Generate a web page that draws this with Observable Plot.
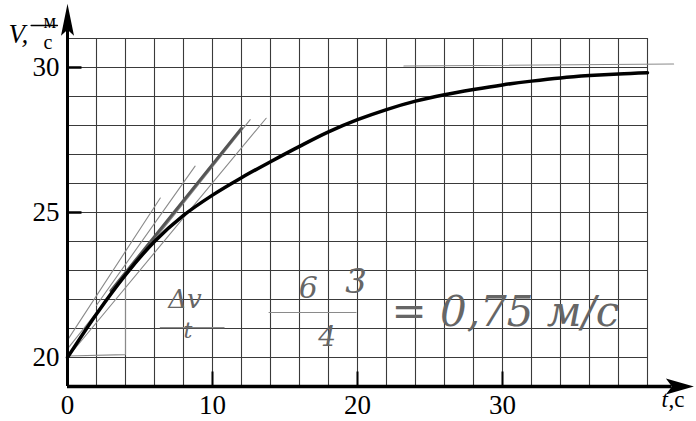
<!DOCTYPE html>
<html>
<head>
<meta charset="utf-8">
<script src="https://cdn.jsdelivr.net/npm/d3@7"></script>
<script src="https://cdn.jsdelivr.net/npm/@observablehq/plot@0.6"></script>
<style>
  html, body { margin: 0; padding: 0; background: #fff; }
  #chart svg { display: block; }
</style>
</head>
<body>
<div id="chart"></div>
<script>
// Curve V(t)
const tValues = [0, 2, 4, 6, 8, 10, 12, 14, 16, 18, 20, 22, 24, 26, 28, 30, 32, 34, 36, 38, 40];
const vValues = [20.0, 21.5, 22.85, 24.0, 24.9, 25.6, 26.2, 26.75, 27.28, 27.78, 28.2, 28.55, 28.84, 29.06, 29.24, 29.4, 29.53, 29.64, 29.72, 29.78, 29.82];

// Axes and grid
const xTickLabels = [0, 10, 20, 30];
const yTickLabels = [20, 25, 30];
const xMarkTicks = [10, 20, 30];
const yMarkTicks = [25, 30];
const xGrid = d3.range(0, 41, 2);
const yGrid = d3.range(19, 32, 1);
const xDomain = [0, 40];
const yDomain = [19, 31];
const xAxisEnd = 43.2;
const yAxisEnd = 32.2;
// fraction bar of the unit м/с beside the V axis (data units)
const unitBar = [[-2.5, 31.45], [-0.7, 31.45]];

// Pencil annotations (tangents, triangle, asymptote, fraction bars) in data units
const thinStrokes = [
  [[0, 20.3], [12.6, 28.2]],
  [[0, 20.0], [13.7, 28.25]],
  [[0, 20.6], [6.4, 25.5]],
  [[2, 21.8], [8.8, 26.6]],
  [[0, 20.05], [4, 20.1], [4, 22.8]],
  [[23.2, 30.05], [41.8, 30.12]],
  [[6.4, 21.03], [10.8, 21.03]],
  [[13.9, 21.55], [19.9, 21.55]]
];
const thickStrokes = [
  [[3, 22.3], [12, 27.9]]
];
const noteT = [8.1, 8.3, 16.6, 19.9, 17.9, 30.2];
const noteV = [22.0, 20.9, 22.4, 22.6, 20.7, 21.55];
const noteText = ["Δv", "t", "6", "3", "4", "= 0,75 м/с"];
const noteSize = [26, 22, 30, 34, 28, 42];

const curve = tValues.map((t, i) => ({t, v: vValues[i]}));
const strokeRows = (list) => list.flatMap((pts, k) => pts.map(([t, v]) => ({k, t, v})));
const notes = noteT.map((t, i) => ({t, v: noteV[i], text: noteText[i], size: noteSize[i]}));

const arrowUp = {draw(ctx) { ctx.moveTo(0, 0); ctx.lineTo(-6.5, 32); ctx.lineTo(0, 26); ctx.lineTo(6.5, 32); ctx.closePath(); }};
const arrowRight = {draw(ctx) { ctx.moveTo(0, 0); ctx.lineTo(-28, -8); ctx.lineTo(-22, 0); ctx.lineTo(-28, 8); ctx.closePath(); }};

const serif = "'Liberation Serif', 'Times New Roman', serif";
const hand = "'DejaVu Serif', serif";

const chart = Plot.plot({
  width: 696,
  height: 421,
  marginLeft: 67,
  marginRight: 49,
  marginTop: 38,
  marginBottom: 35,
  style: {fontFamily: serif, background: "#fff", color: "#000"},
  x: {domain: xDomain},
  y: {domain: yDomain},
  marks: [
    // grid
    Plot.ruleX(xGrid, {y1: yDomain[0], y2: yDomain[1], stroke: "#3a3a3a", strokeWidth: 1.1}),
    Plot.ruleY(yGrid, {x1: xDomain[0], x2: xDomain[1], stroke: "#3a3a3a", strokeWidth: 1.1}),
    // pencil strokes
    Plot.line(strokeRows(thinStrokes), {x: "t", y: "v", z: "k", stroke: "#8a8a8a", strokeWidth: 1.1}),
    Plot.line(strokeRows(thickStrokes), {x: "t", y: "v", z: "k", stroke: "#555", strokeWidth: 3}),
    Plot.text(notes, {x: "t", y: "v", text: "text", fontSize: "size", fontFamily: hand, fontStyle: "italic", fill: "#666"}),
    // ticks on axes
    Plot.ruleX(xMarkTicks, {y1: yDomain[0], y2: yDomain[0] + 0.5, stroke: "#000", strokeWidth: 2}),
    Plot.ruleY(yMarkTicks, {x1: xDomain[0], x2: xDomain[0] + 1, stroke: "#000", strokeWidth: 2.5}),
    // main curve
    Plot.line(curve, {x: "t", y: "v", curve: "monotone-x", stroke: "#000", strokeWidth: 3.5}),
    // axes lines and arrows
    Plot.ruleY([yDomain[0]], {x1: xDomain[0], x2: xAxisEnd - 1.5, stroke: "#000", strokeWidth: 3.5}),
    Plot.ruleX([xDomain[0]], {y1: yDomain[0], y2: yAxisEnd - 0.9, stroke: "#000", strokeWidth: 3}),
    Plot.dot([[xAxisEnd, yDomain[0]]], {x: d => d[0], y: d => d[1], symbol: arrowRight, fill: "#000", stroke: "none"}),
    Plot.dot([[xDomain[0], yAxisEnd]], {x: d => d[0], y: d => d[1], symbol: arrowUp, fill: "#000", stroke: "none"}),
    // axis tick labels
    Plot.axisX({ticks: xTickLabels, tickSize: 0, tickPadding: 8, fontSize: 27, fontFamily: serif, tickFormat: d => String(d), label: null}),
    Plot.axisY({ticks: yTickLabels, tickSize: 0, tickPadding: 8, fontSize: 27, fontFamily: serif, tickFormat: d => String(d), label: null}),
    // axis titles
    Plot.text(["V,"], {frameAnchor: "top-left", dx: -59, dy: -15, fontSize: 27, fontStyle: "italic", textAnchor: "start", fontFamily: serif}),
    Plot.text(["м"], {frameAnchor: "top-left", dx: -24, dy: -25, fontSize: 20, fontFamily: serif}),
    Plot.line(unitBar, {x: d => d[0], y: d => d[1], stroke: "#000", strokeWidth: 1.6, clip: false}),
    Plot.text(["с"], {frameAnchor: "top-left", dx: -24, dy: -4, fontSize: 20, fontFamily: serif}),
    Plot.text(["t"], {frameAnchor: "bottom-right", dx: 14, dy: 20, fontSize: 23, fontStyle: "italic", textAnchor: "start", fontFamily: serif}),
    Plot.text([",c"], {frameAnchor: "bottom-right", dx: 21, dy: 20, fontSize: 23, textAnchor: "start", fontFamily: serif})
  ]
});
document.getElementById("chart").append(chart);
</script>
</body>
</html>
